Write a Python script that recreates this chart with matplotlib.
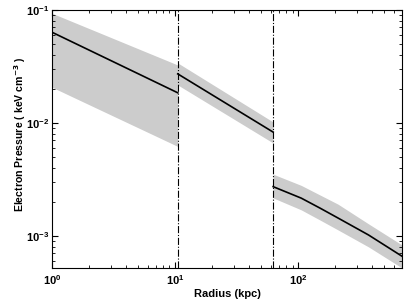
import numpy as np
import matplotlib.pyplot as plt

# segment data (radius in kpc, pressure in keV cm^-3)
r1 = [1.0, 10.5]
p1 = [0.0635, 0.0185]
p1_hi = [0.0935, 0.0326]
p1_lo = [0.0207, 0.0062]

r2 = [10.5, 62.6]
p2 = [0.0272, 0.0083]
p2_hi = [0.0340, 0.0102]
p2_lo = [0.0217, 0.00665]

r3 = [62.6, 106.0, 151.0, 211.0, 373.0, 700.0]
p3 = [0.00273, 0.00216, 0.00176, 0.00144, 0.00102, 0.00066]
p3_hi = [0.00352, 0.00280, 0.00230, 0.00191, 0.00128, 0.00083]
p3_lo = [0.00217, 0.00170, 0.00138, 0.00113, 0.00080, 0.00052]

breaks = [10.5, 62.6]

plt.rcParams['font.family'] = ['Liberation Sans', 'DejaVu Sans']

fig = plt.figure(figsize=(4.07, 3.03), dpi=100)
ax = fig.add_axes([0.128, 0.1155, 0.860, 0.8515])

for r, p, hi, lo in [(r1, p1, p1_hi, p1_lo), (r2, p2, p2_hi, p2_lo), (r3, p3, p3_hi, p3_lo)]:
    ax.fill_between(r, lo, hi, color='#cccccc', linewidth=0)
    ax.plot(r, p, color='black', linewidth=1.2)

for b in breaks:
    ax.axvline(b, color='black', linestyle='-.', linewidth=0.8)

ax.set_xscale('log')
ax.set_yscale('log')
ax.set_xlim(1, 700)
ax.set_ylim(5.2e-4, 0.1)

ax.tick_params(which='both', direction='in', top=True, right=True, labelsize=8)
ax.tick_params(axis='y', pad=2)
ax.tick_params(which='major', length=4, width=0.8)
ax.tick_params(which='minor', length=2, width=0.6)
for lab in ax.get_xticklabels() + ax.get_yticklabels():
    lab.set_fontweight('bold')
for s in ax.spines.values():
    s.set_linewidth(0.8)

ax.set_xlabel('Radius (kpc)', fontsize=8, fontweight='bold', labelpad=2)
ax.set_ylabel(r'Electron Pressure ( keV cm$^{\mathbf{-3}}$ )', fontsize=7.6, fontweight='bold')
ax.yaxis.set_label_coords(-0.068, 0.52)

fig.savefig('out.png', dpi=100)
